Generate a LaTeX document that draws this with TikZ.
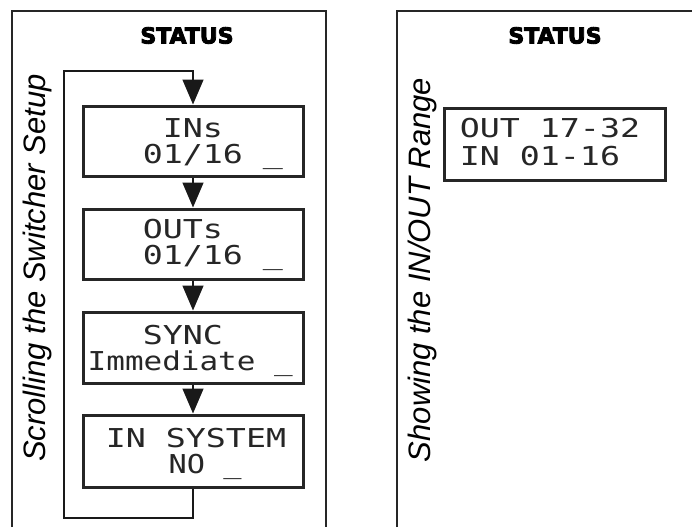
\documentclass[tikz,border=0pt]{standalone}
\usepackage{fontspec}
\usetikzlibrary{arrows.meta}
\newfontfamily\lcdfont{DejaVu Sans Mono}
\newfontfamily\statfont[FakeBold=4]{DejaVu Sans Bold}
\newfontfamily\labfont{Liberation Sans}
\begin{document}
\begin{tikzpicture}[x=1pt,y=-1pt,
  panel/.style={line width=1.6pt, draw=black!85},
  lcdbox/.style={draw=black!85, line width=3pt, minimum width=220pt, minimum height=70pt, inner sep=0pt},
  lcd/.style={font=\lcdfont\fontsize{26}{26}\selectfont, text=black!85, inner sep=0pt, anchor=base west, xscale=1.28},
  flow/.style={line width=1.4pt, draw=black!90},
  tip/.style={-{Triangle[length=25pt,width=21pt]}},
  title/.style={font=\statfont\fontsize{22}{22}\selectfont, inner sep=0pt, anchor=base, xscale=1.0},
  side/.style={font=\labfont\itshape\fontsize{31}{31}\selectfont, inner sep=0pt, anchor=base, rotate=90}
]
\fill[white] (0,0) rectangle (692,527);
\useasboundingbox (0,0) rectangle (692,527);

% panels
\draw[panel] (12,527) -- (12,11) -- (326,11) -- (326,527);
\draw[panel] (397,527) -- (397,11) -- (692,11);

% titles
\node[title] (st1) at (187,43.5) {STATUS};
\node[title] (st2) at (555,43.5) {STATUS};

% side labels
\node[side] (lab1) at (45.5,268) {Scrolling the Switcher Setup};
\node[side] (lab2) at (430,270) {Showing the IN/OUT Range};

% LCD boxes
\node[lcdbox] (b1) at (193,141) {};
\node[lcdbox] (b2) at (193,244) {};
\node[lcdbox, minimum height=71pt] (b3) at (193,347.5) {};
\node[lcdbox, minimum height=72pt] (b4) at (193,451) {};
\node[lcdbox, minimum width=221pt, minimum height=72pt] (rb) at (554.5,144) {};

% LCD texts
\node[lcd] (t1a) at (162.5,137) {INs};
\node[lcd] (t1b) at (142.5,163) {01/16 \_};
\node[lcd] (t2a) at (142.5,238.7) {OUTs};
\node[lcd] (t2b) at (142.5,264.7) {01/16 \_};
\node[lcd] (t3a) at (142.5,344) {SYNC};
\node[lcd, xscale=0.93] (t3b) at (87.5,370) {Immediate \_};
\node[lcd] (t4a) at (105.5,447) {IN SYSTEM};
\node[lcd, xscale=0.91] (t4b) at (168.5,473) {NO \_};
\node[lcd] (r1) at (459.5,137) {OUT 17-32};
\node[lcd] (r2) at (459.5,165) {IN 01-16};

% flow
\coordinate (lb) at (64,518);
\coordinate (lt) at (64,71);
\draw[flow,tip] (b4.south) |- (lb) -- (lt) -| (b1.north);
\draw[flow,tip] (b1.south) -- (b2.north);
\draw[flow,tip] (b2.south) -- (b3.north);
\draw[flow,tip] (b3.south) -- (b4.north);
\end{tikzpicture}
\end{document}
